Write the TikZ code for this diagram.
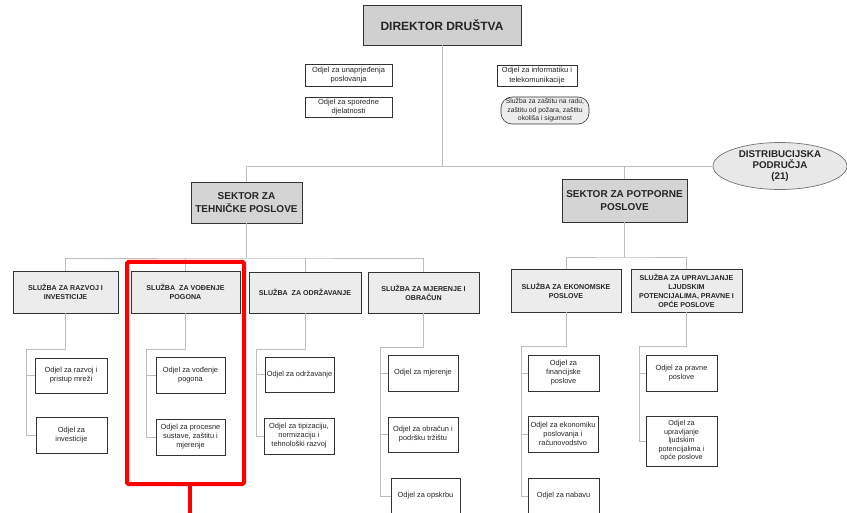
\documentclass[tikz,border=0pt]{standalone}
\usepackage{fontspec}
\setmainfont{Liberation Sans}
\usetikzlibrary{shapes.geometric}
\definecolor{conncol}{HTML}{BDBDBD}
\definecolor{boxline}{HTML}{333333}
\definecolor{dirfill}{HTML}{D0D0D0}
\definecolor{secfill}{HTML}{D4D4D4}
\definecolor{servfill}{HTML}{ECECEC}
\definecolor{ellfill}{HTML}{E8E8E8}
\definecolor{redmark}{HTML}{FF0000}
\tikzset{
  base/.style={draw=boxline, inner sep=1pt, align=center, text=black!85},
  dirbox/.style={base, fill=dirfill, line width=0.9pt, minimum width=158pt, minimum height=40pt, font=\fontsize{12}{14}\selectfont\bfseries},
  staffbox/.style={base, fill=white, line width=0.6pt, font=\fontsize{7.5}{9.5}\selectfont},
  secbox/.style={base, fill=secfill, line width=0.8pt, font=\fontsize{10}{13}\selectfont\bfseries},
  servbox/.style={base, fill=servfill, line width=0.7pt, minimum height=42pt, font=\fontsize{7.1}{9}\selectfont\bfseries},
  odjbox/.style={base, draw=black!80, fill=white, line width=0.7pt, minimum width=70pt, minimum height=36pt, font=\fontsize{7.4}{9}\selectfont},
  conn/.style={draw=conncol, line width=0.7pt},
}
\begin{document}
\begin{tikzpicture}[x=1pt,y=-1pt]
\useasboundingbox (0,0) rectangle (847,513);
\clip (0,0) rectangle (847,513);
% top
\node[dirbox] (dir) at (442,25) {DIREKTOR DRUŠTVA};
\node[staffbox, minimum width=87pt, minimum height=22pt] (s1) at (348.5,75) {Odjel za unaprjeđenja\\poslovanja};
\node[staffbox, minimum width=80pt, minimum height=21pt] (s2) at (537,75.5) {Odjel za informatiku i\\telekomunikacije};
\node[staffbox, line width=0.9pt, minimum width=87pt, minimum height=20pt] (s3) at (348.5,107) {Odjel za sporedne\\djelatnosti};
\node[staffbox, fill=servfill, rounded corners=11pt, minimum width=88pt, minimum height=27pt, font=\fontsize{6.8}{8.7}\selectfont] (s4) at (545,110.5) {Služba za zaštitu na radu,\\zaštitu od požara, zaštitu\\okoliša i sigurnost};
% sectors
\node[secbox, minimum width=111pt, minimum height=41pt] (secT) at (246.5,202.5) {SEKTOR ZA\\TEHNIČKE POSLOVE};
\node[secbox, minimum width=125pt, minimum height=43pt] (secP) at (624.5,200.5) {SEKTOR ZA POTPORNE\\POSLOVE};
\node[ellipse, draw=black!55, fill=ellfill, line width=0.7pt, minimum width=134pt, minimum height=47pt, inner sep=0pt, align=center, font=\fontsize{9.8}{11}\selectfont\bfseries, text=black!85] (ell) at (780,166) {DISTRIBUCIJSKA\\PODRUČJA\\(21)};
% services
\node[servbox, minimum width=105pt] (razvoj) at (65.5,292) {SLUŽBA ZA RAZVOJ I\\INVESTICIJE};
\node[servbox, minimum width=109pt] (vod) at (185.5,292) {SLUŽBA\ \ ZA VOĐENJE\\POGONA};
\node[servbox, minimum width=112pt, minimum height=41pt] (odr) at (305,292.5) {SLUŽBA\ \ ZA ODRŽAVANJE};
\node[servbox, minimum width=111pt, minimum height=41pt] (mjer) at (423.5,292.5) {SLUŽBA ZA MJERENJE I\\OBRAČUN};
\node[servbox, minimum width=110pt, minimum height=43pt] (ekon) at (566,290.5) {SLUŽBA ZA EKONOMSKE\\POSLOVE};
\node[servbox, minimum width=111pt, minimum height=43pt] (uprav) at (686.5,290.5) {SLUŽBA ZA UPRAVLJANJE\\LJUDSKIM\\POTENCIJALIMA, PRAVNE I\\OPĆE POSLOVE};
% lower boxes
\node[odjbox, minimum width=72pt, minimum height=35pt] (r1) at (71,375.5) {Odjel za razvoj i\\pristup mreži};
\node[odjbox, minimum width=71pt] (r2) at (71.5,435) {Odjel za\\investicije};
\node[odjbox, minimum width=69pt] (v1) at (190.5,375) {Odjel za vođenje\\pogona};
\node[odjbox, minimum width=69pt] (v2) at (190.5,437) {Odjel za procesne\\sustave, zaštitu i\\mjerenje};
\node[odjbox, minimum width=69pt, minimum height=35pt] (o1) at (299.5,374.5) {Odjel za održavanje};
\node[odjbox] (o2) at (299,436) {Odjel za tipizaciju,\\normizaciju i\\tehnološki razvoj};
\node[odjbox] (m1) at (423,373) {Odjel za mjerenje};
\node[odjbox, minimum height=35pt] (m2) at (423,434.5) {Odjel za obračun i\\podršku tržištu};
\node[odjbox, minimum width=69pt] (m3) at (425.5,496) {Odjel za opskrbu};
\node[odjbox, minimum width=71pt] (e1) at (563.5,373) {Odjel za\\financijske\\poslove};
\node[odjbox] (e2) at (563,434) {Odjel za ekonomiku\\poslovanja i\\računovodstvo};
\node[odjbox, minimum width=71pt] (e3) at (563.5,496) {Odjel za nabavu};
\node[odjbox, minimum width=71pt] (u1) at (681.5,373) {Odjel za pravne\\poslove};
\node[odjbox, minimum width=71pt, minimum height=50pt, font=\fontsize{7.2}{8.5}\selectfont] (u2) at (681.5,441) {Odjel za\\upravljanje\\ljudskim\\potencijalima i\\opće poslove};
% connectors top
\coordinate (hub) at (442,166);
\draw[conn] (dir.south) -- (hub);
\draw[conn] (secT.north) |- (ell.west);
\draw[conn] (secP.north) -- (secP.north |- ell.west);
% technical services bus
\coordinate (tb) at (246.5,258);
\draw[conn] (secT.south) -- (tb);
\draw[conn] (razvoj.north) |- (tb) -| (mjer.north);
\draw[conn] (vod.north) -- (vod.north |- tb);
\draw[conn] (odr.north) -- (odr.north |- tb);
% support services bus
\coordinate (pb) at (624.5,257);
\draw[conn] (secP.south) -- (pb);
\draw[conn] (ekon.north) |- (pb) -| (uprav.north);
% columns
\coordinate (rs) at (26,349);
\draw[conn] (razvoj.south) |- (rs) |- (r2.west);
\draw[conn] (rs |- r1.west) -- (r1.west);
\coordinate (vs) at (146,349);
\draw[conn] (vod.south) |- (vs) |- (v2.west);
\draw[conn] (vs |- v1.west) -- (v1.west);
\coordinate (os) at (256,349);
\draw[conn] (odr.south) |- (os) |- (o2.west);
\draw[conn] (os |- o1.west) -- (o1.west);
\coordinate (ms) at (380,347);
\draw[conn] (mjer.south) |- (ms) |- (m3.west);
\draw[conn] (ms |- m1.west) -- (m1.west);
\draw[conn] (ms |- m2.west) -- (m2.west);
\coordinate (es) at (521,346);
\draw[conn] (ekon.south) |- (es) |- (e3.west);
\draw[conn] (es |- e1.west) -- (e1.west);
\draw[conn] (es |- e2.west) -- (e2.west);
\coordinate (us) at (639,346);
\draw[conn] (uprav.south) |- (us) |- (u2.west);
\draw[conn] (us |- u1.west) -- (u1.west);
% red highlight
\draw[redmark, line width=4pt, rounded corners=1.5pt] (127,262) rectangle (244,484);
\coordinate (redtop) at (190,484);
\coordinate (redend) at (190,515);
\draw[redmark, line width=4pt] (redtop) -- (redend);
\end{tikzpicture}
\end{document}
